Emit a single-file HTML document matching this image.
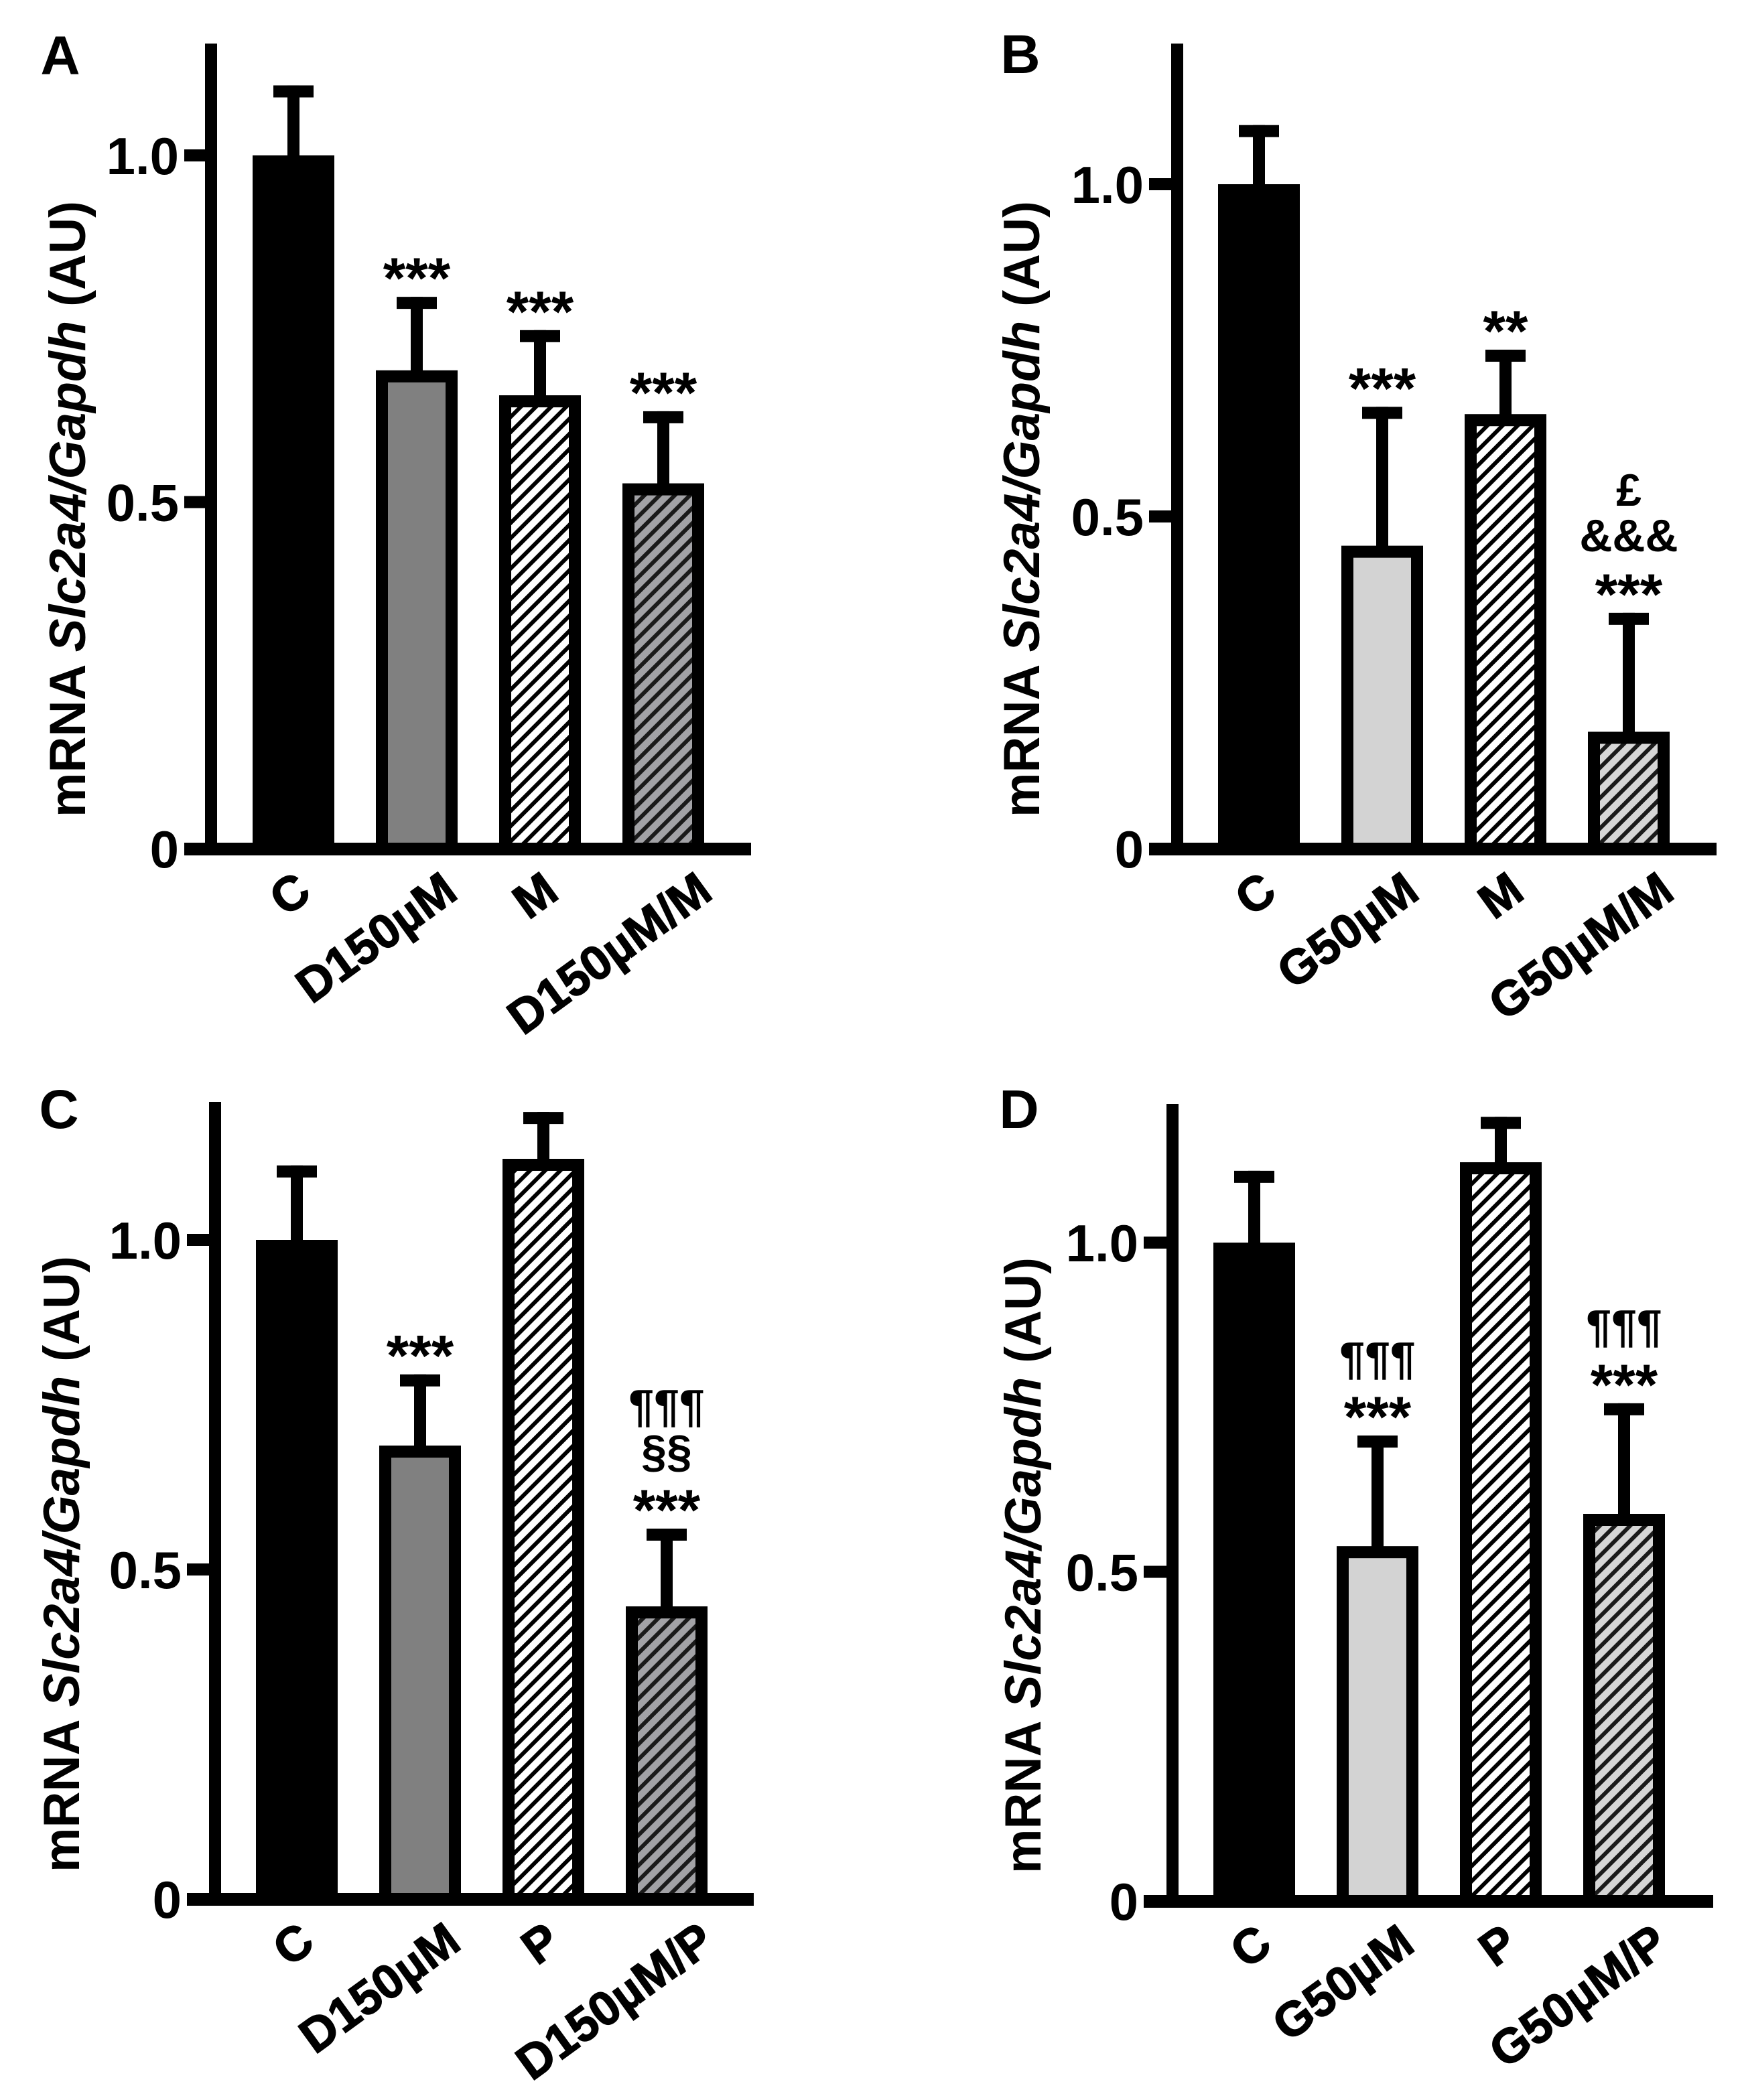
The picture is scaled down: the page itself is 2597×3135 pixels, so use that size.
<!DOCTYPE html>
<html><head><meta charset="utf-8"><style>
html,body{margin:0;padding:0;background:#fff;}
svg{display:block;font-family:"Liberation Sans",Arial,sans-serif;font-weight:bold;}
</style></head><body>
<svg id="fig" width="2597" height="3135" viewBox="0 0 2597 3135" xmlns="http://www.w3.org/2000/svg">
<defs>
<pattern id="hatchWhite" patternUnits="userSpaceOnUse" width="16" height="16" patternTransform="rotate(45)">
<rect width="16" height="16" fill="#fff"/><rect x="0" y="0" width="6" height="16" fill="#000"/></pattern>
<pattern id="hatchGray" patternUnits="userSpaceOnUse" width="16" height="16" patternTransform="rotate(45)">
<rect width="16" height="16" fill="#a2a2a6"/><rect x="0" y="0" width="6" height="16" fill="#1a1a1a"/></pattern>
<pattern id="hatchLight" patternUnits="userSpaceOnUse" width="16" height="16" patternTransform="rotate(45)">
<rect width="16" height="16" fill="#d6d6d6"/><rect x="0" y="0" width="6" height="16" fill="#1a1a1a"/></pattern>
</defs>
</svg>
<script>
// Panel A
const catsA = ["C","D150µM","M","D150µM/M"];
const valsA = [1.0, 0.690, 0.654, 0.527];
const errA  = [1.101, 0.796, 0.748, 0.631];
const annA  = [[], ["***"], ["***"], ["***"]];
// Panel B
const catsB = ["C","G50µM","M","G50µM/M"];
const valsB = [1.0, 0.456, 0.654, 0.176];
const errB  = [1.089, 0.665, 0.751, 0.355];
const annB  = [[], ["***"], ["**"], ["£","&&&","***"]];
// Panel C
const catsC = ["C","D150µM","P","D150µM/P"];
const valsC = [1.0, 0.688, 1.123, 0.444];
const errC  = [1.113, 0.796, 1.194, 0.562];
const annC  = [[], ["***"], [], ["¶¶¶","§§","***"]];
// Panel D
const catsD = ["C","G50µM","P","G50µM/P"];
const valsD = [1.0, 0.539, 1.122, 0.588];
const errD  = [1.109, 0.707, 1.191, 0.756];
const annD  = [[], ["¶¶¶","***"], [], ["¶¶¶","***"]];
const yTicks = [0, 0.5, 1.0];
const yTickLabels = ["0", "0.5", "1.0"];

const NS = "http://www.w3.org/2000/svg";
const svg = document.getElementById("fig");
function mk(tag, attrs, parent){
  const e = document.createElementNS(NS, tag);
  for (const k in attrs) e.setAttribute(k, attrs[k]);
  (parent||svg).appendChild(e);
  return e;
}

const panels = [
  {id:"a", letter:"A", lx:90, ly:111, axisX:315, tickL:275, xEnd:1121, top:65, zero:1267, unit:1035, c0:438, titleX:127, titleY:760,
   cats:catsA, vals:valsA, errs:errA, ann:annA, fills:["#000","#808080","url(#hatchWhite)","url(#hatchGray)"]},
  {id:"b", letter:"B", lx:1523, ly:109, axisX:1757, tickL:1715, xEnd:2562, top:65, zero:1267, unit:992, c0:1879, titleX:1551, titleY:760,
   cats:catsB, vals:valsB, errs:errB, ann:annB, fills:["#000","#d3d3d3","url(#hatchWhite)","url(#hatchLight)"]},
  {id:"c", letter:"C", lx:88, ly:1684, axisX:321, tickL:279, xEnd:1125, top:1645, zero:2835, unit:984, c0:443, titleX:118, titleY:2335,
   cats:catsC, vals:valsC, errs:errC, ann:annC, fills:["#000","#808080","url(#hatchWhite)","url(#hatchGray)"]},
  {id:"d", letter:"D", lx:1521, ly:1684, axisX:1750, tickL:1707, xEnd:2557, top:1648, zero:2838, unit:983, c0:1872, titleX:1553, titleY:2337,
   cats:catsD, vals:valsD, errs:errD, ann:annD, fills:["#000","#d3d3d3","url(#hatchWhite)","url(#hatchLight)"]}
];
const pitch = 184, barW = 122, sw = 18;

panels.forEach(p => {
  const g = mk("g", {});
  
  
  const y = v => p.zero - v * p.unit;
  const cx = i => p.c0 + i * pitch;

  const lab = mk("text", {x:p.lx, y:p.ly, "font-size":82, "text-anchor":"middle"}, g);
  lab.textContent = p.letter;
  
  

  const t = mk("text", {x:0, y:0, "font-size":76, "text-anchor":"middle", textLength:920, lengthAdjust:"spacingAndGlyphs",
    transform:`translate(${p.titleX},${p.titleY}) rotate(-90)`}, g);
  t.innerHTML = 'mRNA <tspan font-style="italic">Slc2a4/Gapdh</tspan> (AU)';
  
  

  p.cats.forEach((c, i) => {
    const left = cx(i) - barW/2, topY = y(p.vals[i]);
    const capY = y(p.errs[i]);
    const stem = mk("rect", {x:cx(i)-sw/2, y:capY, width:sw, height:topY-capY+sw, fill:"#000"}, g);
    
    
    const cap = mk("rect", {x:cx(i)-30, y:capY, width:60, height:sw, fill:"#000"}, g);
    
    
    const r = mk("rect", {x:left+sw/2, y:topY+sw/2, width:barW-sw, height:p.zero-topY-sw/2,
      fill:p.fills[i], stroke:"#000", "stroke-width":sw}, g);
    
    

    const a = p.ann[i];
    let base = capY - 22;
    for (let k = a.length - 1; k >= 0; k--) {
      const s = a[k];
      const isStar = s.indexOf("*") === 0;
      const tx = mk("text", {x:cx(i), y:isStar ? base + 24 : base, "font-size":isStar?86:68, "text-anchor":"middle"}, g);
      tx.textContent = s;
      
      
      base -= isStar ? 70 : 68;
    }

    const cl = mk("text", {x:0, y:0, "font-size":72, "text-anchor":"end", "stroke":"#000", "stroke-width":1.5}, g);
    cl.textContent = c;
    
    
    const L = cl.getComputedTextLength();
    cl.setAttribute("transform", `translate(${cx(i) + 22 + 0.155*L},${p.zero + 72}) rotate(-36)`);
  });

  const ya = mk("rect", {x:p.axisX - 9, y:p.top, width:18, height:p.zero - p.top + 9, fill:"#000"}, g);
  
  
  const xa = mk("rect", {x:p.tickL, y:p.zero - 9, width:p.xEnd - p.tickL, height:19, fill:"#000"}, g);
  
  
  yTicks.forEach((v, k) => {
    const tk = mk("rect", {x:p.tickL, y:y(v) - 9, width:p.axisX - p.tickL, height:18, fill:"#000"}, g);
    
    
    const tl = mk("text", {x:p.tickL - 8, y:y(v) + 28, "font-size":78, "text-anchor":"end"}, g);
    tl.textContent = yTickLabels[k];
    
    
  });
});
</script>
</body></html>
